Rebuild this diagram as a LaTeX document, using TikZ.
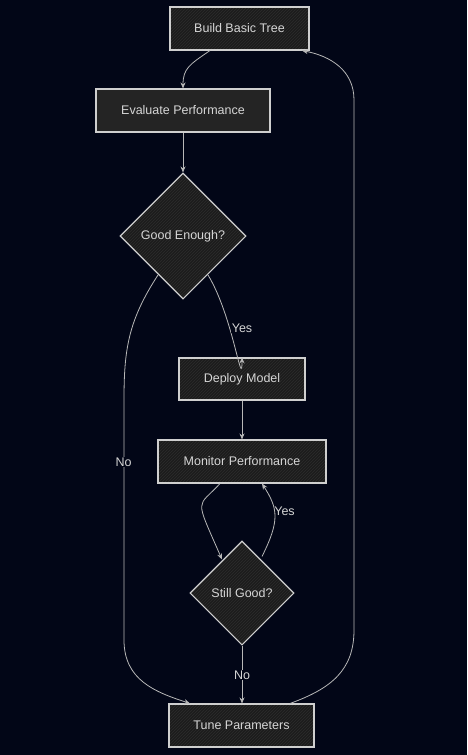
\documentclass[tikz,border=0pt]{standalone}
\usepackage{fontspec}
\setmainfont{Liberation Sans}
\usetikzlibrary{shapes.geometric,arrows.meta,patterns}
\definecolor{bg}{HTML}{020617}
\definecolor{nodefill}{HTML}{1C1C1C}
\definecolor{hatch}{HTML}{2C2C2C}
\definecolor{border}{HTML}{CFCFCF}
\definecolor{edge}{HTML}{B8B8B8}
\definecolor{txt}{HTML}{D6D6D6}
\tikzset{
  box/.style={draw=border, line width=1.1pt, text=txt, font=\fontsize{12.5}{14}\selectfont, inner sep=0pt, anchor=center, preaction={fill=nodefill}},
  hatched/.style={preaction={pattern=north east lines, pattern color=hatch}},
  solidbox/.style={preaction={fill=nodefill!115!white}},
  dec/.style={box, diamond, aspect=1, inner sep=0pt},
  conn/.style={draw=edge, line width=0.8pt, -{Stealth[length=6pt,width=5pt]}},
  lbl/.style={text=txt, font=\fontsize{12.5}{14}\selectfont, inner sep=1pt}
}
\begin{document}
\begin{tikzpicture}[x=1pt,y=-1pt]
\fill[bg] (0,0) rectangle (467,755);
\useasboundingbox (0,0) rectangle (467,755);

\node[box, hatched, minimum width=139pt, minimum height=43pt] (build) at (239.5,28.5) {Build Basic Tree};
\node[box, minimum width=174pt, minimum height=43pt, preaction={fill=black!86}] (eval) at (183,110.5) {Evaluate Performance};
\node[dec, hatched, minimum size=126pt] (good) at (183,236) {Good Enough?};
\node[box, hatched, minimum width=126pt, minimum height=42pt] (deploy) at (242,379) {Deploy Model};
\node[box, hatched, minimum width=168pt, minimum height=43pt] (monitor) at (242,461.5) {Monitor Performance};
\node[dec, hatched, minimum size=104pt] (still) at (242,593) {Still Good?};
\node[box, hatched, minimum width=145pt, minimum height=43pt] (tune) at (241.5,725.5) {Tune Parameters};

% build -> eval
\draw[conn] ([xshift=-29.5pt]build.south) .. controls ([xshift=-50pt,yshift=-14pt]build.south) and ([yshift=20pt]eval.north) .. (eval.north);
% eval -> good
\draw[conn] (eval.south) -- (good.north);
% good -> deploy (Yes)
\draw[conn] ([shift={(25,39)}]good.center) .. controls ([shift={(50,80)}]good.center) and ([yshift=-35pt]deploy.north) .. (deploy.north);
\node[lbl, fill=bg] (yes1) at (242,328) {Yes};
% good -> tune (No)
\draw[conn] ([shift={(-25,39)}]good.center) .. controls ([shift={(-55,85)}]good.center) and (124,350) .. (124,400)
  -- (124,640) .. controls (124,680) and (155,692) .. ([xshift=-51.5pt]tune.north);
\node[lbl, fill=bg] (no1) at (123.5,462) {No};
% deploy -> monitor
\draw[conn] (deploy.south) -- (monitor.north);
% monitor -> still
\draw[conn] ([xshift=-22pt]monitor.south) .. controls ([shift={(-45,25)}]monitor.south) and ([shift={(-48,-45)}]still.north) .. ([shift={(-20,19)}]still.north);
% still -> monitor (Yes)
\draw[conn] ([shift={(20,16)}]still.north) .. controls ([shift={(38,-20)}]still.north) and ([shift={(36,25)}]monitor.south) .. ([xshift=20pt]monitor.south);
\node[lbl] (yes2) at (284.5,511) {Yes};
% still -> tune (No)
\draw[conn] (still.south) -- (tune.north -| still.south);
\node[lbl, fill=bg] (no2) at (242,675) {No};
% tune -> build
\draw[conn] ([xshift=48.5pt]tune.north) .. controls ([shift={(90,-15)}]tune.north) and (354,670) .. (354,630)
  -- (354,100) .. controls (354,70) and (330,56) .. ([xshift=62.5pt]build.south);
\end{tikzpicture}
\end{document}
